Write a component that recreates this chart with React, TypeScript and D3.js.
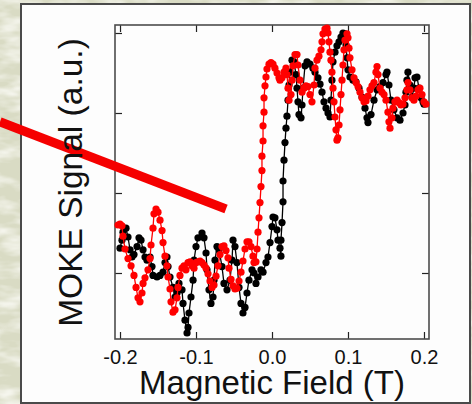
import React, { useEffect, useRef } from 'react';
import * as d3 from 'd3';

// Campo magnético (T) x sinal MOKE (u.a.)
const blackLoop: [number, number][] = [
  [-0.2, 0.31], [-0.1974, 0.41], [-0.1961, 0.51], [-0.1921, 0.56], [-0.1895, 0.45], [-0.1868, 0.29],
  [-0.1842, 0.2], [-0.1816, 0.23], [-0.1776, 0.33], [-0.175, 0.44], [-0.1724, 0.41], [-0.1697, 0.29],
  [-0.1671, 0.2], [-0.1645, 0.16], [-0.1605, 0.2], [-0.1579, 0.08], [-0.1566, -0.03], [-0.1513, -0.05],
  [-0.1474, -0.03], [-0.1434, 0.01], [-0.1408, 0.13], [-0.1382, 0.2], [-0.1368, 0.08], [-0.1342, -0.05],
  [-0.1303, -0.18], [-0.1276, -0.3], [-0.125, -0.25], [-0.1224, -0.13], [-0.1184, -0.21], [-0.1171, -0.38],
  [-0.1145, -0.59], [-0.1118, -0.75], [-0.1105, -0.68], [-0.1092, -0.5], [-0.1066, -0.3], [-0.1039, -0.09],
  [-0.1026, 0.16], [-0.1, 0.33], [-0.0974, 0.44], [-0.0921, 0.5], [-0.0895, 0.44], [-0.0868, 0.25],
  [-0.0855, 0.04], [-0.0829, -0.21], [-0.0803, -0.38], [-0.0776, -0.3], [-0.0763, -0.09], [-0.075, 0.16],
  [-0.0724, 0.33], [-0.0697, 0.29], [-0.0658, 0.08], [-0.0632, -0.13], [-0.0592, -0.21], [-0.0553, -0.09],
  [-0.0526, 0.16], [-0.0513, 0.41], [-0.0487, 0.33], [-0.0461, 0.13], [-0.0434, -0.18], [-0.0408, -0.38],
  [-0.0382, -0.5], [-0.0355, -0.43], [-0.0329, -0.25], [-0.0303, -0.09], [-0.0263, 0.04], [-0.0237, 0.0],
  [-0.0211, -0.13], [-0.0184, -0.05], [-0.0145, 0.04], [-0.0118, 0.01], [-0.0079, 0.13], [-0.0053, 0.2],
  [-0.0026, 0.38], [0.0, 0.58], [0.0013, 0.7], [0.0039, 0.69], [0.0066, 0.54], [0.0079, 0.41],
  [0.0105, 0.31], [0.0118, 0.21], [0.0118, 0.41], [0.0132, 0.63], [0.0145, 0.89], [0.0145, 1.15],
  [0.0158, 1.41], [0.0171, 1.63], [0.0184, 1.81], [0.0197, 1.96], [0.0211, 2.16], [0.0224, 2.35],
  [0.0237, 2.51], [0.0263, 2.66], [0.0289, 2.64], [0.0316, 2.48], [0.0329, 2.31], [0.0342, 2.14],
  [0.0355, 1.98], [0.0382, 1.94], [0.0395, 2.1], [0.0408, 2.31], [0.0434, 2.59], [0.0461, 2.64],
  [0.05, 2.61], [0.0539, 2.56], [0.0566, 2.51], [0.0605, 2.44], [0.0632, 2.36], [0.0658, 2.26],
  [0.0684, 2.14], [0.0711, 2.06], [0.0737, 2.0], [0.0763, 1.95], [0.0776, 2.16], [0.0789, 2.41],
  [0.0803, 2.64], [0.0829, 2.76], [0.0855, 2.84], [0.0882, 2.89], [0.0908, 2.95], [0.0934, 3.0],
  [0.0961, 2.99], [0.0974, 2.85], [0.0987, 2.69], [0.1, 2.54], [0.1026, 2.45], [0.1066, 2.41],
  [0.1105, 2.39], [0.1145, 2.31], [0.1184, 2.2], [0.1224, 2.06], [0.125, 1.94], [0.1263, 1.88],
  [0.1303, 1.98], [0.1342, 2.16], [0.1382, 2.29], [0.1421, 2.33], [0.1461, 2.38], [0.15, 2.48],
  [0.1513, 2.51], [0.1539, 2.35], [0.1566, 2.16], [0.1605, 2.04], [0.1645, 1.94], [0.1684, 1.91],
  [0.1724, 2.0], [0.175, 2.1], [0.1763, 2.26], [0.1776, 2.41], [0.1789, 2.51], [0.1816, 2.35],
  [0.1842, 2.2], [0.1868, 2.31], [0.1882, 2.44], [0.1908, 2.45], [0.1934, 2.31], [0.1961, 2.19],
  [0.1987, 2.14], [0.2, 2.11],
];

const redLoop: [number, number][] = [
  [-0.2026, 0.6], [-0.2, 0.61], [-0.1974, 0.59], [-0.1961, 0.46], [-0.1934, 0.3], [-0.1895, 0.18],
  [-0.1855, 0.09], [-0.1816, -0.03], [-0.1789, -0.18], [-0.1763, -0.31], [-0.1737, -0.36], [-0.1711, -0.25],
  [-0.1697, -0.13], [-0.1671, -0.06], [-0.1632, 0.04], [-0.1605, 0.18], [-0.1592, 0.35], [-0.1566, 0.56],
  [-0.1553, 0.74], [-0.1526, 0.8], [-0.15, 0.76], [-0.1474, 0.66], [-0.1447, 0.53], [-0.1434, 0.38],
  [-0.1408, 0.21], [-0.1382, 0.09], [-0.1368, -0.05], [-0.1342, -0.2], [-0.1329, -0.36], [-0.1303, -0.49],
  [-0.1276, -0.46], [-0.125, -0.31], [-0.1237, -0.18], [-0.1211, -0.03], [-0.1184, 0.06], [-0.1158, 0.09],
  [-0.1132, 0.04], [-0.1105, 0.13], [-0.1079, 0.14], [-0.1053, 0.09], [-0.1026, 0.06], [-0.1, 0.13],
  [-0.0974, 0.14], [-0.0947, 0.15], [-0.0921, 0.13], [-0.0895, 0.1], [-0.0868, 0.06], [-0.0842, -0.01],
  [-0.0816, -0.1], [-0.0789, -0.18], [-0.0763, -0.15], [-0.0737, -0.04], [-0.0711, 0.09], [-0.0684, 0.23],
  [-0.0658, 0.33], [-0.0632, 0.34], [-0.0605, 0.28], [-0.0579, 0.19], [-0.0566, 0.06], [-0.0539, -0.08],
  [-0.0513, -0.16], [-0.0487, -0.2], [-0.0461, -0.19], [-0.0434, -0.1], [-0.0408, 0.01], [-0.0382, 0.15],
  [-0.0355, 0.3], [-0.0329, 0.39], [-0.0303, 0.39], [-0.0276, 0.33], [-0.025, 0.21], [-0.0237, 0.13],
  [-0.0211, 0.14], [-0.0197, 0.3], [-0.0184, 0.51], [-0.0171, 0.69], [-0.0158, 0.88], [-0.0145, 1.08],
  [-0.0132, 1.28], [-0.0132, 1.46], [-0.0118, 1.65], [-0.0118, 1.84], [-0.0105, 2.01], [-0.0105, 2.19],
  [-0.0092, 2.34], [-0.0079, 2.45], [-0.0066, 2.55], [-0.0039, 2.61], [-0.0013, 2.63], [0.0013, 2.61],
  [0.0039, 2.56], [0.0066, 2.5], [0.0092, 2.44], [0.0105, 2.41], [0.0132, 2.44], [0.0158, 2.51],
  [0.0184, 2.56], [0.0197, 2.48], [0.0211, 2.31], [0.0224, 2.16], [0.025, 2.23], [0.0263, 2.41],
  [0.0276, 2.59], [0.0303, 2.73], [0.0329, 2.73], [0.0342, 2.6], [0.0368, 2.41], [0.0395, 2.26],
  [0.0421, 2.31], [0.0447, 2.34], [0.0474, 2.33], [0.05, 2.23], [0.0526, 2.14], [0.0553, 2.35],
  [0.0566, 2.56], [0.0592, 2.66], [0.0618, 2.71], [0.0645, 2.79], [0.0658, 2.89], [0.0671, 2.99],
  [0.0697, 3.05], [0.0724, 3.06], [0.0737, 3.0], [0.075, 2.89], [0.0763, 2.76], [0.0776, 2.66],
  [0.0789, 2.51], [0.0803, 2.31], [0.0816, 2.14], [0.0829, 1.95], [0.0842, 1.79], [0.0855, 1.66],
  [0.0868, 1.69], [0.0882, 1.85], [0.0895, 2.04], [0.0908, 2.23], [0.0921, 2.41], [0.0934, 2.6],
  [0.0947, 2.79], [0.0961, 2.91], [0.0987, 2.99], [0.1, 2.94], [0.1013, 2.81], [0.1026, 2.69],
  [0.1053, 2.54], [0.1079, 2.44], [0.1105, 2.38], [0.1132, 2.33], [0.1158, 2.26], [0.1184, 2.19],
  [0.1211, 2.14], [0.1237, 2.15], [0.1263, 2.21], [0.1289, 2.29], [0.1316, 2.34], [0.1342, 2.38],
  [0.1368, 2.51], [0.1382, 2.58], [0.1395, 2.48], [0.1421, 2.31], [0.1447, 2.26], [0.1474, 2.23],
  [0.15, 2.16], [0.1526, 2.01], [0.1539, 1.89], [0.1553, 1.81], [0.1579, 1.94], [0.1592, 2.06],
  [0.1618, 2.14], [0.1645, 2.16], [0.1671, 2.13], [0.1697, 2.1], [0.1724, 2.11], [0.175, 2.19],
  [0.1776, 2.29], [0.1789, 2.38], [0.1816, 2.29], [0.1842, 2.19], [0.1868, 2.16], [0.1895, 2.21],
  [0.1921, 2.29], [0.1947, 2.31], [0.1974, 2.23], [0.2, 2.14], [0.2026, 2.11],
];

const fieldTicks = [-0.2, -0.1, 0, 0.1, 0.2];
const signalTicks = [0, 1, 2, 3];
const fieldDomain: [number, number] = [-0.2066, 0.2066];
const signalDomain: [number, number] = [-0.825, 3.1];
// seta vermelha da apresentação (em coordenadas de dados)
const pointer: [number, number][] = [[-0.358, 1.89], [-0.0605, 0.8]];

const FONT = '"Liberation Sans", Arial, Helvetica, sans-serif';

const MokeLoop = () => {
  const chartRef = useRef<SVGSVGElement>(null);

  useEffect(() => {
    const W = 472;
    const H = 404;
    const margin = { top: 25, right: 43, bottom: 65, left: 115 };
    const width = W - margin.left - margin.right;
    const height = H - margin.top - margin.bottom;

    const svg = d3.select(chartRef.current);
    svg.selectAll('*').remove();
    svg.attr('width', W).attr('height', H);

    // fundo com textura
    const defs = svg.append('defs');
    const paper = defs.append('filter').attr('id', 'paper');
    paper.append('feTurbulence')
      .attr('type', 'fractalNoise')
      .attr('baseFrequency', '0.03 0.08')
      .attr('numOctaves', 3)
      .attr('seed', 7);
    paper.append('feColorMatrix')
      .attr('type', 'matrix')
      .attr('values', '0 0 0 0 0.95  0 0 0 0 0.95  0 0 0 0 0.9  2.2 0 0 0 -0.9');

    svg.append('rect').attr('width', W).attr('height', H).attr('fill', '#d9dbc4');
    svg.append('rect').attr('width', W).attr('height', H).attr('fill', '#fff').attr('filter', 'url(#paper)');

    // painel branco
    svg.append('rect')
      .attr('x', 21).attr('y', 4)
      .attr('width', 449).attr('height', 399)
      .attr('fill', '#fdfdfd')
      .attr('stroke', '#4a4a4a')
      .attr('stroke-width', 2);

    const g = svg.append('g').attr('transform', `translate(${margin.left},${margin.top})`);

    const x = d3.scaleLinear().domain(fieldDomain).range([0, width]);
    const y = d3.scaleLinear().domain(signalDomain).range([height, 0]);

    const styleAxis = (sel: any) => {
      sel.select('.domain').remove();
      sel.selectAll('line').attr('stroke', '#222').attr('stroke-width', 1.2);
      sel.attr('font-family', FONT).attr('font-size', 20);
      sel.selectAll('text').attr('fill', '#111');
    };

    g.append('g')
      .attr('transform', `translate(0,${height})`)
      .call(d3.axisBottom(x).tickValues(fieldTicks).tickSizeInner(-7).tickSizeOuter(0)
        .tickPadding(11).tickFormat((d: any) => (+d).toFixed(1)))
      .call(styleAxis);

    g.append('g')
      .call(d3.axisTop(x).tickValues(fieldTicks).tickSizeInner(-7).tickSizeOuter(0).tickFormat(() => ''))
      .call(styleAxis);

    g.append('g')
      .call(d3.axisLeft(y).tickValues(signalTicks).tickSizeInner(-7).tickSizeOuter(0).tickFormat(() => ''))
      .call(styleAxis);

    g.append('g')
      .attr('transform', `translate(${width},0)`)
      .call(d3.axisRight(y).tickValues(signalTicks).tickSizeInner(-7).tickSizeOuter(0).tickFormat(() => ''))
      .call(styleAxis);

    // moldura
    g.append('rect')
      .attr('width', width).attr('height', height)
      .attr('fill', 'none')
      .attr('stroke', '#4d4d4d')
      .attr('stroke-width', 1.6);

    const line = d3.line<[number, number]>().x(d => x(d[0])).y(d => y(d[1]));

    [{ data: blackLoop, color: '#000' }, { data: redLoop, color: '#ff0000' }].forEach(s => {
      g.append('path')
        .datum(s.data)
        .attr('d', line)
        .attr('fill', 'none')
        .attr('stroke', s.color)
        .attr('stroke-width', 1.3);
      g.append('g').selectAll('circle')
        .data(s.data)
        .enter().append('circle')
        .attr('cx', d => x(d[0]))
        .attr('cy', d => y(d[1]))
        .attr('r', 3.6)
        .attr('fill', s.color);
    });

    // títulos dos eixos
    svg.append('text')
      .attr('x', 272).attr('y', 394)
      .attr('text-anchor', 'middle')
      .attr('font-family', FONT).attr('font-size', 33)
      .attr('fill', '#111')
      .text('Magnetic Field (T)');

    svg.append('text')
      .attr('transform', 'translate(81.5,182.5) rotate(-90)')
      .attr('text-anchor', 'middle')
      .attr('font-family', FONT).attr('font-size', 33.5)
      .attr('fill', '#111')
      .text('MOKE Signal (a.u.)');

    // seta vermelha por cima de tudo
    g.append('path')
      .datum(pointer)
      .attr('d', line)
      .attr('fill', 'none')
      .attr('stroke', '#f50000')
      .attr('stroke-width', 9);
  }, []);

  return <svg ref={chartRef} style={{ position: 'absolute', left: 0, top: 0 }}></svg>;
};

export default function App() {
  return <MokeLoop />;
}
